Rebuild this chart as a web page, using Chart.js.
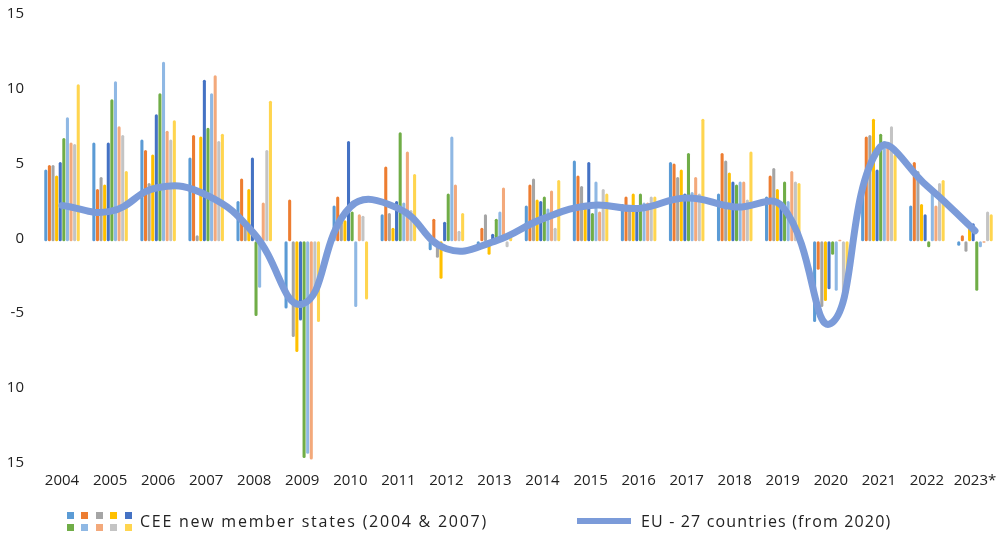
<!DOCTYPE html>
<html>
<head>
<meta charset="utf-8">
<script src="https://cdn.jsdelivr.net/npm/chart.js@4/dist/chart.umd.min.js"></script>
<style>
  html, body { margin: 0; padding: 0; background: #ffffff; }
  #wrap { position: relative; width: 1003px; height: 534px; overflow: hidden; }
  #c { position: absolute; left: 0; top: 0; }
  .leg { position: absolute; font-family: "Open Sans", sans-serif; font-size: 16px; color: #222; white-space: nowrap; line-height: 20px; }
  .sq { position: absolute; width: 7px; height: 7px; }
  .ln { position: absolute; height: 6px; }
</style>
</head>
<body>
<div id="wrap">
  <canvas id="c" width="1003" height="534"></canvas>
</div>
<script>
// ---- DATA ----
const categories = ['2004','2005','2006','2007','2008','2009','2010','2011','2012','2013',
                    '2014','2015','2016','2017','2018','2019','2020','2021','2022','2023*'];

const cee1  = [ 4.6,  6.4,  6.6,  5.4,  2.5,  -4.7,  2.2, 1.6, -0.8, -0.5, 2.2, 5.2, 2.3, 5.1, 3.0, 2.8, -5.6, 3.3, 2.2, -0.5];
const cee2  = [ 4.9,  3.3,  5.9,  6.9,  4.0,   2.6,  2.8, 4.8,  1.3,  0.7, 3.6, 4.2, 2.8, 5.0, 5.7, 4.2, -2.1, 6.8, 5.1,  0.2];
const cee3  = [ 4.9,  4.1,  3.7,  0.2,  0.9,  -6.6,  1.1, 1.7, -1.3,  1.6, 4.0, 3.5, 2.2, 4.1, 5.2, 4.7, -4.6, 6.9, 4.5, -0.9];
const cee4  = [ 4.2,  3.6,  5.6,  6.8,  3.3,  -7.6,  1.2, 0.7, -2.7, -1.1, 2.6, 2.1, 3.0, 4.6, 4.4, 3.3, -4.2, 8.0, 2.3,  1.0];
const cee5  = [ 5.1,  6.4,  8.3, 10.6,  5.4,  -5.5,  6.5, 2.5,  1.1,  0.3, 2.5, 5.1, 1.9, 3.0, 3.8, 2.3, -3.4, 4.6, 1.6,  1.0];
const cee6  = [ 6.7,  9.3,  9.7,  7.4, -5.2, -14.7,  1.8, 7.1,  3.0,  1.3, 2.8, 1.7, 3.0, 5.7, 3.6, 3.8, -1.1, 7.0, -0.6, -3.5];
const cee7  = [ 8.1, 10.5, 11.8,  9.7, -3.3, -14.4, -4.6, 2.4,  6.8,  1.8, 2.0, 3.8, 2.4, 3.1, 3.8, 2.5, -3.5, 6.5, 3.2, -0.6];
const cee8  = [ 6.4,  7.5,  7.2, 10.9,  2.4, -14.8,  1.6, 5.8,  3.6,  3.4, 3.2, 1.8, 2.4, 4.1, 3.8, 4.5, -0.1, 6.3, 2.2, -0.3];
const cee9  = [ 6.3,  6.9,  6.6,  6.5,  5.9,  -3.4,  1.5, 1.9,  0.5, -0.6, 0.7, 3.3, 2.8, 3.0, 2.6, 3.8, -4.0, 7.5, 3.7,  1.8];
const cee10 = [10.3,  4.5,  7.9,  7.0,  9.2,  -5.6, -4.1, 4.3,  1.7,  0.3, 3.9, 3.0, 2.8, 8.0, 5.8, 3.7, -3.7, 5.6, 3.9,  1.6];

const eu27 = [2.2, 1.8, 3.4, 2.9, 0.3, -4.4, 2.1, 2.0, -0.7, -0.2, 1.3, 2.2, 2.0, 2.7, 2.1, 2.1, -5.7, 6.0, 3.5, 0.5];

const yTickValues = [15, 10, 5, 0, -5, -10, -15];
const yTickLabels = ['15', '10', '5', '0', '-5', '10', '15'];

const legendLabels = ['CEE new member states (2004 & 2007)', 'EU - 27 countries (from 2020)'];

// ---- STYLE ----
const barColors = ['#5b9bd5','#ed7d31','#a5a5a5','#ffc000','#4472c4','#70ad47',
                   '#8fb8e4','#f3a97b','#c4c4c4','#ffd54f'];
const lineColor = '#7b9bd9';
const textColor = '#222222';
const fontFamily = "'Open Sans', sans-serif";

const ceeSeries = [cee1, cee2, cee3, cee4, cee5, cee6, cee7, cee8, cee9, cee10];

const datasets = ceeSeries.map((d, i) => ({
  type: 'bar',
  label: legendLabels[0],
  data: d,
  backgroundColor: barColors[i],
  base: -0.2,
  categoryPercentage: 0.75,
  barPercentage: 0.85,
  borderRadius: 1.5,
  borderSkipped: false,
  order: 1
}));
datasets.push({
  type: 'line',
  label: legendLabels[1],
  data: eu27,
  borderColor: lineColor,
  backgroundColor: lineColor,
  borderWidth: 7,
  pointRadius: 0,
  tension: 0.45,
  borderCapStyle: 'round',
  borderJoinStyle: 'round',
  fill: false,
  order: 0
});

new Chart(document.getElementById('c'), {
  data: { labels: categories, datasets },
  options: {
    responsive: false,
    devicePixelRatio: 1,
    animation: false,
    layout: { padding: { top: 14, right: 4, left: 0, bottom: 0 } },
    plugins: { legend: { display: false }, tooltip: { enabled: false } },
    scales: {
      x: {
        grid: { display: false, drawTicks: false },
        border: { display: false },
        ticks: { color: textColor, font: { family: fontFamily, size: 15 }, padding: 9, maxRotation: 0, autoSkip: false },
        afterFit: (s) => { s.height = 71.4; s.paddingLeft = 0; s.paddingRight = 0; }
      },
      y: {
        min: -15, max: 15,
        grid: { display: false, drawTicks: false },
        border: { display: false },
        afterBuildTicks: (s) => { s.ticks = yTickValues.map(v => ({ value: v })); },
        ticks: {
          color: textColor, font: { family: fontFamily, size: 15 }, padding: 14,
          callback: (v) => { const k = yTickValues.indexOf(v); return k >= 0 ? yTickLabels[k] : ''; }
        },
        afterFit: (s) => { s.width = 38; s.paddingTop = 0; s.paddingBottom = 0; }
      }
    }
  }
});

// ---- LEGEND (HTML) ----
const wrap = document.getElementById('wrap');
barColors.forEach((c, i) => {
  const sq = document.createElement('div');
  sq.className = 'sq';
  sq.style.background = c;
  sq.style.left = (67 + (i % 5) * 14.4) + 'px';
  sq.style.top = (511.5 + Math.floor(i / 5) * 12) + 'px';
  wrap.appendChild(sq);
});
const l1 = document.createElement('div');
l1.className = 'leg'; l1.textContent = legendLabels[0];
l1.style.left = '140px'; l1.style.top = '511px'; l1.style.letterSpacing = '1.75px';
wrap.appendChild(l1);
const ln = document.createElement('div');
ln.className = 'ln'; ln.style.background = lineColor;
ln.style.left = '577px'; ln.style.top = '518px'; ln.style.width = '54px';
wrap.appendChild(ln);
const l2 = document.createElement('div');
l2.className = 'leg'; l2.textContent = legendLabels[1];
l2.style.left = '641px'; l2.style.top = '511px'; l2.style.letterSpacing = '1.15px';
wrap.appendChild(l2);
</script>
</body>
</html>
